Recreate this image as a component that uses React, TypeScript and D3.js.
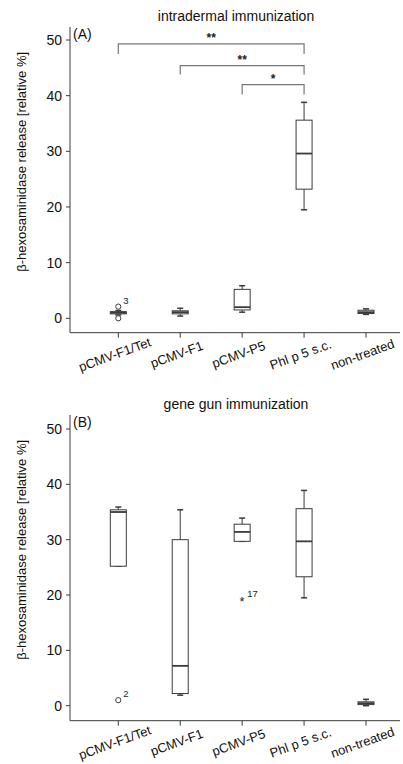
import * as d3 from 'd3';

// group names on the x axis
const categories = ['pCMV-F1/Tet', 'pCMV-F1', 'pCMV-P5', 'Phl p 5 s.c.', 'non-treated'];
const yTicks = [0, 10, 20, 30, 40, 50];

// (A) intradermal immunization - box stats per group
const idLow = [0.6, 0.4, 1.1, 19.5, 0.7];
const idQ1 = [0.8, 0.8, 1.5, 23.2, 0.85];
const idMedian = [1.0, 1.1, 2.0, 29.6, 1.1];
const idQ3 = [1.2, 1.35, 5.2, 35.6, 1.45];
const idHigh = [1.4, 1.8, 5.85, 38.8, 1.7];
const idOutliers = [
  { group: 0, value: 2.1, label: '3', kind: 'circle' },
  { group: 0, value: 0.0, label: '', kind: 'circle' },
];
// significance brackets: from group, to group, level
const idBrackets = [
  { from: 0, to: 3, level: 49.3, drop: 1.8, mark: '**' },
  { from: 1, to: 3, level: 45.4, drop: 1.6, mark: '**' },
  { from: 2, to: 3, level: 42.0, drop: 1.8, mark: '*' },
];

// (B) gene gun immunization
const ggLow = [25.2, 1.9, 29.7, 19.5, 0.0];
const ggQ1 = [25.2, 2.2, 29.7, 23.3, 0.2];
const ggMedian = [35.0, 7.2, 31.4, 29.7, 0.45];
const ggQ3 = [35.4, 30.0, 32.8, 35.6, 0.7];
const ggHigh = [35.9, 35.4, 33.9, 38.9, 1.15];
const ggOutliers = [
  { group: 0, value: 1.0, label: '2', kind: 'circle' },
  { group: 2, value: 19.1, label: '17', kind: 'star' },
];

const font = 'Arial, "Liberation Sans", Helvetica, sans-serif';
const lineColor = '#3a3a3a';

type Outlier = { group: number; value: number; label: string; kind: string };
type Bracket = { from: number; to: number; level: number; drop: number; mark: string };

const Panel = ({
  top, bottom, zeroY, fiftyY, title, tag, low, q1, med, q3, high, outliers, brackets,
}: {
  top: number; bottom: number; zeroY: number; fiftyY: number; title: string; tag: string;
  low: number[]; q1: number[]; med: number[]; q3: number[]; high: number[];
  outliers: Outlier[]; brackets: Bracket[];
}) => {
  const axisX = 70;
  const x = d3.scalePoint<string>().domain(categories).range([118.3, 366]);
  const y = d3.scaleLinear().domain([0, 50]).range([zeroY, fiftyY]);
  const boxW = 16;
  const cap = 3;

  return (
    <g>
      <text x={236} y={top - 6} textAnchor="middle" fontFamily={font} fontSize={14} fill="#111">
        {title}
      </text>
      <text x={axisX + 3} y={top + 12} fontFamily={font} fontSize={14} fill="#111">
        {tag}
      </text>
      {/* axes */}
      <line x1={axisX} x2={axisX} y1={top} y2={bottom} stroke={lineColor} strokeWidth={1} />
      <line x1={axisX} x2={400} y1={bottom} y2={bottom} stroke={lineColor} strokeWidth={1} />
      {yTicks.map((t) => (
        <g key={t}>
          <line x1={axisX - 4} x2={axisX} y1={y(t)} y2={y(t)} stroke={lineColor} />
          <text x={axisX - 8} y={y(t) + 5} textAnchor="end" fontFamily={font} fontSize={14} fill="#111">
            {t}
          </text>
        </g>
      ))}
      {categories.map((c) => (
        <g key={c}>
          <line x1={x(c)} x2={x(c)} y1={bottom} y2={bottom + 5} stroke={lineColor} />
          <text
            transform={`translate(${x(c)! - 2},${bottom + 26}) rotate(-20)`}
            textAnchor="middle"
            fontFamily={font}
            fontSize={13}
            fill="#111"
          >
            {c}
          </text>
        </g>
      ))}
      <text
        transform={`translate(26,${(top + bottom) / 2 - 18}) rotate(-90)`}
        textAnchor="middle"
        fontFamily={font}
        fontSize={13}
        fill="#111"
      >
        β-hexosaminidase release [relative %]
      </text>
      {/* boxes */}
      {categories.map((c, i) => {
        const cx = x(c)!;
        return (
          <g key={c} stroke={lineColor} fill="none">
            <line x1={cx} x2={cx} y1={y(high[i])} y2={y(q3[i])} />
            <line x1={cx} x2={cx} y1={y(q1[i])} y2={y(low[i])} />
            <line x1={cx - cap} x2={cx + cap} y1={y(high[i])} y2={y(high[i])} strokeWidth={1.5} />
            <line x1={cx - cap} x2={cx + cap} y1={y(low[i])} y2={y(low[i])} strokeWidth={1.5} />
            <rect x={cx - boxW / 2} y={y(q3[i])} width={boxW} height={Math.max(1, y(q1[i]) - y(q3[i]))} fill="#fff" />
            <line x1={cx - boxW / 2} x2={cx + boxW / 2} y1={y(med[i])} y2={y(med[i])} strokeWidth={1.8} />
          </g>
        );
      })}
      {outliers.map((o, k) => {
        const cx = x(categories[o.group])!;
        const cy = y(o.value);
        return (
          <g key={k}>
            {o.kind === 'circle' ? (
              <circle cx={cx} cy={cy} r={2.6} fill="#fff" stroke={lineColor} strokeWidth={1} />
            ) : (
              <text x={cx} y={cy + 6} textAnchor="middle" fontFamily={font} fontSize={13} fill="#222">*</text>
            )}
            {o.label && (
              <text x={cx + 5} y={cy - 3} fontFamily={font} fontSize={9.5} fill="#222">
                {o.label}
              </text>
            )}
          </g>
        );
      })}
      {brackets.map((b, k) => {
        const x1 = x(categories[b.from])!;
        const x2 = x(categories[b.to])!;
        const yl = y(b.level);
        const yd = y(b.level - b.drop);
        return (
          <g key={k}>
            <path d={`M${x1},${yd}V${yl}H${x2}V${yd}`} fill="none" stroke="#777" strokeWidth={1.2} />
            <text x={(x1 + x2) / 2} y={yl - 2} textAnchor="middle" fontFamily={font} fontSize={12} fontWeight="bold" fill="#222">
              {b.mark}
            </text>
          </g>
        );
      })}
    </g>
  );
};

export default function App() {
  return (
    <svg width={403} height={764} style={{ position: 'absolute', left: 0, top: 0, background: '#fff' }}>
      <rect width={403} height={764} fill="#fff" />
      <Panel
        top={27} bottom={332.7} zeroY={318.3} fiftyY={40}
        title="intradermal immunization" tag="(A)"
        low={idLow} q1={idQ1} med={idMedian} q3={idQ3} high={idHigh}
        outliers={idOutliers} brackets={idBrackets}
      />
      <Panel
        top={415} bottom={720.7} zeroY={705.7} fiftyY={429}
        title="gene gun immunization" tag="(B)"
        low={ggLow} q1={ggQ1} med={ggMedian} q3={ggQ3} high={ggHigh}
        outliers={ggOutliers} brackets={[]}
      />
    </svg>
  );
}
